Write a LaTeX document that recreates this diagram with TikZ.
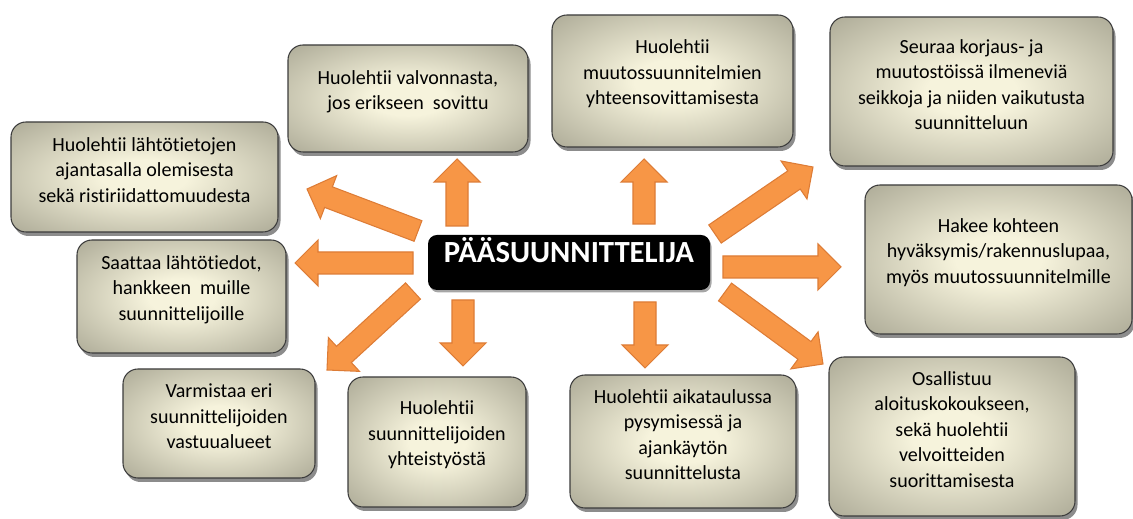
\documentclass[tikz,border=0pt]{standalone}
\usepackage{fontspec}
\setmainfont{Carlito}[Ligatures=NoCommon]
\usetikzlibrary{calc,fit,shadows}
\definecolor{boxin}{HTML}{F6F3DC}
\definecolor{boxout}{HTML}{878573}
\definecolor{boxline}{HTML}{3C3C3C}
\definecolor{arrfill}{HTML}{F79646}
\definecolor{arrline}{HTML}{DD7C36}
\pgfdeclareradialshading{boxshade}{\pgfpoint{0bp}{0bp}}{color(0bp)=(boxin); color(8bp)=(boxin); color(50bp)=(boxout); color(75bp)=(boxout)}
\tikzset{
  infobox/.style={draw=boxline, line width=0.6pt, rounded corners=0.3cm, shading=boxshade,
    inner sep=0pt, align=center, text=black, font=\fontsize{11.4}{14.5}\selectfont,
    drop shadow={shadow xshift=0.05cm, shadow yshift=-0.08cm, opacity=0.45, fill=black}},
  mainbox/.style={fill=black, rounded corners=0.18cm, inner sep=0pt, text=white,
    font=\fontsize{17.5}{20}\selectfont\bfseries,
    drop shadow={shadow xshift=0.03cm, shadow yshift=-0.05cm, opacity=0.35, fill=black}},
  blockarr/.style={fill=arrfill, draw=arrline, line width=0.6pt, line join=miter}
}
\newcommand\blockarrow[2]{%
  \path ($(#2)!0.46cm!(#1)$) coordinate (hb);
  \draw[blockarr] ($(#1)!0.22cm!90:(#2)$) -- ($(hb)!0.22cm!90:(#2)$) -- ($(hb)!0.46cm!90:(#2)$) -- (#2)
    -- ($(hb)!0.46cm!-90:(#2)$) -- ($(hb)!0.22cm!-90:(#2)$) -- ($(#1)!0.22cm!-90:(#2)$) -- cycle;}
\begin{document}
\begin{tikzpicture}[x=0.02cm,y=-0.02cm]
\fill[white] (0,0) rectangle (1133,519);
\useasboundingbox (0,0) rectangle (1133,519);

% boxes
\node[infobox, fit={(288,45) (528,152)}] (b1) {Huolehtii valvonnasta,\\jos erikseen\ \ sovittu};
\node[infobox, fit={(11,122) (278,232)}] (b2) {Huolehtii lähtötietojen\\ajantasalla olemisesta\\sekä ristiriidattomuudesta};
\node[infobox, fit={(552,15) (793,147)}] (b3) {Huolehtii\\muutossuunnitelmien\\yhteensovittamisesta};
\node[infobox, fit={(830,17) (1113,166)}] (b4) {Seuraa korjaus- ja\\muutostöissä ilmeneviä\\seikkoja ja niiden vaikutusta\\suunnitteluun};
\node[infobox, fit={(865,185) (1132,334)}] (b5) {Hakee kohteen\\hyväksymis/rakennuslupaa,\\myös muutossuunnitelmille};
\node[infobox, fit={(77,240) (286,353)}] (b6) {Saattaa lähtötiedot,\\hankkeen\ \ muille\\suunnittelijoille};
\node[infobox, fit={(123,369) (315,478)}] (b7) {Varmistaa eri\\suunnittelijoiden\\vastuualueet};
\node[infobox, fit={(348,377) (526,507)}] (b8) {Huolehtii\\suunnittelijoiden\\yhteistyöstä};
\node[infobox, fit={(570,375) (796,508)}] (b9) {Huolehtii aikataulussa\\pysymisessä ja\\ajankäytön\\suunnittelusta};
\node[infobox, fit={(829,357) (1075,516)}] (b10) {Osallistuu\\aloituskokoukseen,\\sekä huolehtii\\velvoitteiden\\suorittamisesta};

% central
\node[mainbox, fit={(428,235) (710,290)}] (main) {PÄÄSUUNNITTELIJA};

% arrow end points
\coordinate (a1s) at (457,226);  \coordinate (a1e) at (457,159);
\coordinate (a2s) at (644,224);  \coordinate (a2e) at (644,159);
\coordinate (a3s) at (418,231);  \coordinate (a3e) at (307,189);
\coordinate (a4s) at (413,263);  \coordinate (a4e) at (295,263);
\coordinate (a5s) at (413,291);  \coordinate (a5e) at (327,370);
\coordinate (a6s) at (463,300);  \coordinate (a6e) at (463,366);
\coordinate (a7s) at (645,302);  \coordinate (a7e) at (645,368);
\coordinate (a8s) at (715,234);  \coordinate (a8e) at (813,167);
\coordinate (a9s) at (723,267);  \coordinate (a9e) at (841,267);
\coordinate (a10s) at (725,292); \coordinate (a10e) at (823,364);

\blockarrow{a1s}{a1e}
\blockarrow{a2s}{a2e}
\blockarrow{a3s}{a3e}
\blockarrow{a4s}{a4e}
\blockarrow{a5s}{a5e}
\blockarrow{a6s}{a6e}
\blockarrow{a7s}{a7e}
\blockarrow{a8s}{a8e}
\blockarrow{a9s}{a9e}
\blockarrow{a10s}{a10e}
\end{tikzpicture}
\end{document}
